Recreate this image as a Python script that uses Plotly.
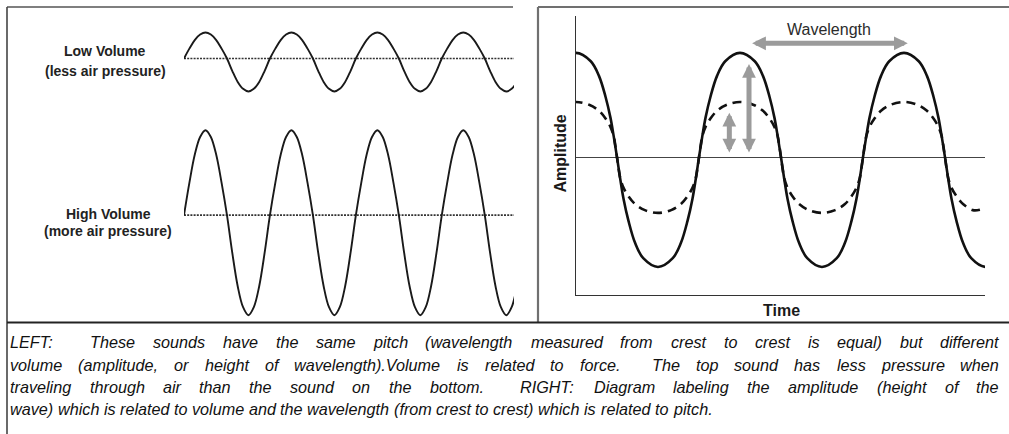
import plotly.graph_objects as go

W, H = 1009, 434

# ---------------- data ----------------
# LEFT panel: two sounds with the same pitch (wavelength) but different volume
left_names = ["Low Volume", "High Volume"]
left_label_lines = [["Low Volume", "(less air pressure)"],
                    ["High Volume", "(more air pressure)"]]
left_crest = [0.26, 0.85]        # height of the crests above the dotted rest line
left_trough = [0.33, 1.00]       # depth of the troughs below it
left_cycles_shown = 3.84         # wavelengths drawn
# shape of a quarter cycle, zero crossing -> crest (fraction of a cycle, fraction of crest)
left_profile_u = [0.0, 0.0625, 0.125, 0.1875, 0.25]
left_profile_h = [0.0, 0.38, 0.71, 0.92, 1.0]

# RIGHT panel: amplitude vs time, a loud (solid) and a soft (dashed) wave
right_names = ["Louder sound", "Softer sound"]
right_crest = [0.975, 0.517]
right_trough = [1.025, 0.52]
right_time_shown = 2.494         # wavelengths drawn
right_last_point = [None, (2.463, -0.49)]   # where the dashed wave stops
right_profile_u = [[0.0, 0.02, 0.04, 0.07, 0.11, 0.16, 0.25],
                   [0.0, 0.01, 0.02, 0.04, 0.07, 0.11, 0.17, 0.25]]
right_profile_h = [[0.0, 0.20, 0.38, 0.58, 0.78, 0.92, 1.0],
                   [0.0, 0.21, 0.38, 0.55, 0.70, 0.84, 0.95, 1.0]]

# labelled distances in the right diagram
wavelength_from, wavelength_to, wavelength_level = 1.065, 2.023, 1.065
amp_arrow_time = [1.055, 0.935]
amp_arrow_top = [0.872, 0.417]
amp_arrow_base = 0.031

caption_lines = [
    "LEFT:  These sounds have the same pitch (wavelength measured from crest to crest is equal) but different",
    "volume (amplitude, or height of wavelength).Volume is related to force.  The top sound has less pressure when",
    "traveling through air than the sound on the bottom.  RIGHT: Diagram labeling the amplitude (height of the",
    "wave) which is related to volume and the wavelength (from crest to crest) which is related to pitch.",
]
caption_justified = [True, True, True, False]

# ---------------- helpers ----------------
def px_x(px):
    return px / W


def px_y(py):
    return 1 - py / H


def one_cycle(pu, ph, crest, trough):
    us, hs = [], []
    for u, h in zip(pu, ph):
        us.append(u); hs.append(crest * h)
    for u, h in zip(pu[-2::-1], ph[-2::-1]):
        us.append(0.5 - u); hs.append(crest * h)
    for u, h in zip(pu[1:], ph[1:]):
        us.append(0.5 + u); hs.append(-trough * h)
    for u, h in zip(pu[-2:0:-1], ph[-2:0:-1]):
        us.append(1.0 - u); hs.append(-trough * h)
    return us, hs


def build_wave(first_rise, pu, ph, crest, trough, t_min, t_max):
    us, hs = one_cycle(pu, ph, crest, trough)
    t, y = [], []
    for k in range(-2, 8):
        for u, h in zip(us, hs):
            tt = first_rise + k + u
            if t_min <= tt <= t_max:
                t.append(tt); y.append(h)
    return t, y


# Arial / Liberation Sans advance widths (1/1000 em)
ARIAL = {' ': 278, '(': 333, ')': 333, ',': 278, '.': 278, ':': 278,
         'a': 556, 'b': 556, 'c': 500, 'd': 556, 'e': 556, 'f': 278, 'g': 556, 'h': 556,
         'i': 222, 'j': 222, 'k': 500, 'l': 222, 'm': 833, 'n': 556, 'o': 556, 'p': 556,
         'q': 556, 'r': 333, 's': 500, 't': 278, 'u': 556, 'v': 500, 'w': 722, 'x': 500,
         'y': 500, 'z': 500, 'D': 722, 'E': 667, 'F': 611, 'G': 778, 'H': 722, 'I': 278,
         'L': 556, 'R': 722, 'T': 611, 'V': 667}


def text_w(s, size):
    return sum(ARIAL.get(c, 556) for c in s) / 1000.0 * size


fig = go.Figure()

# ---------------- left panel ----------------
left_axes = ["y2", "y3"]
for i, name in enumerate(left_names):
    fig.add_trace(go.Scatter(
        x=[0, left_cycles_shown], y=[0, 0], xaxis="x2", yaxis=left_axes[i],
        mode="lines", line=dict(color="#333333", width=1.7, dash="2px,1.2px"),
        hoverinfo="skip", showlegend=False))
    t, y = build_wave(0.0, left_profile_u, left_profile_h, left_crest[i], left_trough[i],
                      0.0, left_cycles_shown + 0.3)
    fig.add_trace(go.Scatter(
        x=t, y=y, xaxis="x2", yaxis=left_axes[i], name=name, mode="lines",
        line=dict(color="#1a1a1a", width=1.9, shape="spline", smoothing=1.0),
        showlegend=False))

# ---------------- right panel ----------------
right_styles = [dict(color="#111111", width=2.6, shape="spline", smoothing=1.0),
                dict(color="#111111", width=2.6, shape="spline", smoothing=1.0, dash="9px,6px")]
for i, name in enumerate(right_names):
    last = right_last_point[i]
    t_max = last[0] - 0.005 if last else right_time_shown + 0.3
    t, y = build_wave(-0.25, right_profile_u[i], right_profile_h[i], right_crest[i],
                      right_trough[i], -0.3, t_max)
    if last:
        t.append(last[0]); y.append(last[1])
    fig.add_trace(go.Scatter(x=t, y=y, xaxis="x", yaxis="y", name=name, mode="lines",
                             line=right_styles[i], showlegend=False))

annotations = []
arrow_common = dict(xref="x", yref="y", axref="x", ayref="y", text="", showarrow=True,
                    arrowhead=2, startarrowhead=2, arrowside="end+start",
                    arrowsize=0.55, startarrowsize=0.55, arrowwidth=5,
                    arrowcolor="#9b9b9b")
annotations.append(dict(x=wavelength_to, y=wavelength_level, ax=wavelength_from,
                        ay=wavelength_level, **arrow_common))
for tx, top in zip(amp_arrow_time, amp_arrow_top):
    annotations.append(dict(x=tx, y=top, ax=tx, ay=amp_arrow_base, **arrow_common))
annotations.append(dict(x=(wavelength_from + wavelength_to) / 2, y=wavelength_level,
                        xref="x", yref="y", xanchor="center", yanchor="middle", yshift=14,
                        text="Wavelength", showarrow=False,
                        font=dict(family="Liberation Sans, Arial", size=16, color="#2b2b2b")))
annotations.append(dict(x=px_x(559.5), y=px_y(154), xref="paper", yref="paper",
                        xanchor="center", yanchor="middle",
                        text="<b>Amplitude</b>", textangle=-90, showarrow=False,
                        font=dict(family="Liberation Sans, Arial", size=16, color="#1a1a1a")))
annotations.append(dict(x=px_x(781), y=px_y(310.5), xref="paper", yref="paper",
                        xanchor="center", yanchor="middle",
                        text="<b>Time</b>", showarrow=False,
                        font=dict(family="Liberation Sans, Arial", size=16, color="#1a1a1a")))

# left labels
label_pos = [[(105, 51.5), (105, 70.5)], [(108, 213.5), (108, 231)]]
for lines, pos in zip(left_label_lines, label_pos):
    for txt, (lx, ly) in zip(lines, pos):
        annotations.append(dict(x=px_x(lx), y=px_y(ly), xref="paper", yref="paper",
                                xanchor="center", yanchor="middle",
                                text="<b>" + txt + "</b>", showarrow=False,
                                font=dict(family="Liberation Sans, Arial",
                                          size=14, color="#222222")))

# caption, justified word by word
CAP_SIZE = 16.2
CAP_LEFT, CAP_RIGHT = 10, 999
cap_y = [342, 364.5, 387, 409]
for line, just, ly in zip(caption_lines, caption_justified, cap_y):
    words = line.split(" ")
    tokens = []  # (word, spaces before it)
    sp = 0
    for w in words:
        if w == "":
            sp += 1
            continue
        tokens.append((w, sp if tokens else 0))
        sp = 1
    sp_w = text_w(" ", CAP_SIZE)
    natural = sum(text_w(w, CAP_SIZE) for w, _ in tokens) + sum(s for _, s in tokens) * sp_w
    n_sp = sum(s for _, s in tokens)
    extra = (CAP_RIGHT - CAP_LEFT - natural) / n_sp if just and n_sp else 0.0
    xpos = CAP_LEFT
    for w, s in tokens:
        xpos += s * (sp_w + extra)
        annotations.append(dict(x=px_x(xpos), y=px_y(ly), xref="paper", yref="paper",
                                xanchor="left", yanchor="middle", text="<i>" + w + "</i>",
                                showarrow=False, borderpad=0, borderwidth=0,
                                font=dict(family="Liberation Sans, Arial",
                                          size=CAP_SIZE, color="#111111")))
        xpos += text_w(w, CAP_SIZE)

# frames
shapes = []
def seg(x0, y0, x1, y1, color, width):
    shapes.append(dict(type="line", xref="paper", yref="paper", x0=px_x(x0), y0=px_y(y0),
                       x1=px_x(x1), y1=px_y(y1), line=dict(color=color, width=width)))

seg(7, 7, 513, 7, "#555555", 1.6)
seg(7, 7, 7, 434, "#444444", 1.6)
seg(538, 7, 1009, 7, "#707070", 2.2)
seg(538, 7, 538, 323, "#707070", 2.2)
seg(7, 322.5, 1009, 322.5, "#222222", 2)

hidden = dict(visible=False, fixedrange=True)
fig.update_layout(
    width=W, height=H, autosize=False,
    margin=dict(l=0, r=0, t=0, b=0),
    paper_bgcolor="white", plot_bgcolor="white",
    showlegend=False,
    xaxis=dict(domain=[px_x(576), px_x(985)], range=[0, right_time_shown], anchor="y",
               showline=True, linecolor="#333333", linewidth=1.4, showgrid=False,
               zeroline=False, showticklabels=False, ticks="", fixedrange=True),
    yaxis=dict(domain=[px_y(295), px_y(16)], range=[-1.287, 1.32], anchor="x",
               showline=True, linecolor="#333333", linewidth=1.4, showgrid=False,
               zeroline=True, zerolinecolor="#444444", zerolinewidth=1.2,
               showticklabels=False, ticks="", fixedrange=True),
    xaxis2=dict(domain=[px_x(184), px_x(514)], range=[0, left_cycles_shown], anchor="y2", **hidden),
    yaxis2=dict(domain=[px_y(108.5), px_y(8.5)], range=[-0.5, 0.5], anchor="x2", **hidden),
    yaxis3=dict(domain=[px_y(320.2), px_y(110.2)], range=[-1.05, 1.05], anchor="x2", **hidden),
    annotations=annotations,
    shapes=shapes,
)

fig.write_html("out.html", config={"displayModeBar": False},
               post_script="document.body.style.margin='0';document.body.style.overflow='hidden';")
